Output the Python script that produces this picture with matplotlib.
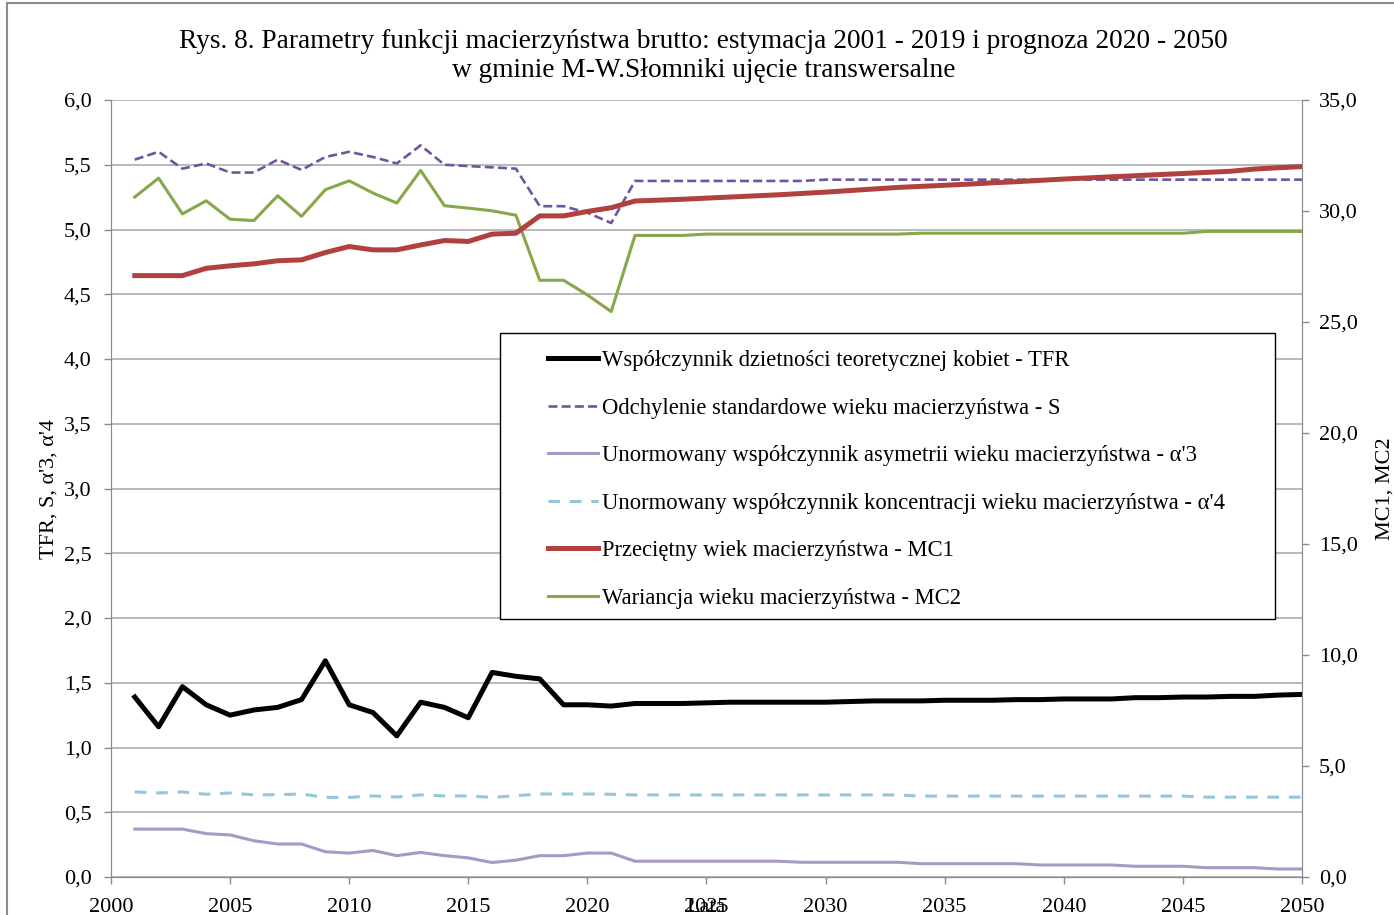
#!/usr/bin/env python3
"""Rys. 8 - parametry funkcji macierzynstwa brutto, Slomniki."""
import matplotlib
matplotlib.use('Agg')
import matplotlib.pyplot as plt
from matplotlib.ticker import FuncFormatter, MultipleLocator
from matplotlib.lines import Line2D
from matplotlib.patches import Rectangle

plt.rcParams['font.family'] = ['Liberation Serif', 'DejaVu Serif']

years = list(range(2001, 2051))

tfr = [1.39, 1.16, 1.47, 1.33, 1.25, 1.29, 1.31, 1.37, 1.67, 1.33, 1.27, 1.09, 1.35, 1.31,
       1.23, 1.58, 1.55, 1.53, 1.33, 1.33, 1.32,
       1.34, 1.34, 1.34, 1.345, 1.35, 1.35, 1.35, 1.35, 1.35, 1.355, 1.36, 1.36, 1.36, 1.365,
       1.365, 1.365, 1.37, 1.37, 1.375, 1.375, 1.375, 1.385, 1.385, 1.39, 1.39, 1.395, 1.395,
       1.405, 1.41]
s_dev = [5.54, 5.60, 5.47, 5.51, 5.44, 5.44, 5.54, 5.46, 5.56, 5.60, 5.56, 5.51, 5.65, 5.50,
         5.49, 5.48, 5.47, 5.18, 5.18, 5.13, 5.05,
         5.375, 5.375, 5.375, 5.375, 5.375, 5.375, 5.375, 5.375,
         5.385, 5.385, 5.385, 5.385, 5.385, 5.385, 5.385, 5.385, 5.385, 5.385, 5.385, 5.385,
         5.385, 5.385, 5.385, 5.385, 5.385, 5.385, 5.385, 5.385, 5.385]
alfa3 = [0.37, 0.37, 0.37, 0.335, 0.325, 0.28, 0.255, 0.255, 0.195, 0.185, 0.205, 0.165, 0.19,
         0.165, 0.148, 0.112, 0.13, 0.165, 0.165, 0.185, 0.185,
         0.122, 0.122, 0.122, 0.122, 0.122, 0.122, 0.122,
         0.114, 0.114, 0.114, 0.114, 0.114,
         0.103, 0.103, 0.103, 0.103, 0.103,
         0.093, 0.093, 0.093, 0.093,
         0.083, 0.083, 0.083,
         0.072, 0.072, 0.072,
         0.062, 0.062]
alfa4 = [0.657, 0.649, 0.657, 0.639, 0.649, 0.634, 0.636, 0.641, 0.615, 0.615, 0.626, 0.618,
         0.634, 0.626, 0.626, 0.615, 0.628, 0.641, 0.641, 0.641, 0.639,
         0.634, 0.634, 0.634, 0.634, 0.634, 0.634, 0.634, 0.634, 0.634, 0.634, 0.634, 0.634,
         0.625, 0.625, 0.625, 0.625, 0.625, 0.625, 0.625, 0.625, 0.625, 0.625, 0.625, 0.625,
         0.617, 0.617, 0.617, 0.617, 0.617]
mc1 = [27.09, 27.09, 27.09, 27.42, 27.53, 27.62, 27.76, 27.80, 28.13, 28.40, 28.25, 28.25,
       28.47, 28.67, 28.63, 28.96, 29.00, 29.78, 29.78, 29.98, 30.15,
       30.45, 30.49, 30.53, 30.58, 30.63, 30.68, 30.73, 30.79, 30.85, 30.92, 30.99, 31.06,
       31.11, 31.16, 31.21, 31.27, 31.32, 31.38, 31.44, 31.49, 31.54, 31.59, 31.64, 31.69,
       31.74, 31.79, 31.89, 31.95, 32.00]
mc2 = [30.63, 31.48, 29.87, 30.46, 29.63, 29.57, 30.69, 29.76, 30.96, 31.36, 30.81, 30.36,
       31.83, 30.24, 30.13, 30.01, 29.81, 26.88, 26.88, 26.22, 25.47,
       28.90, 28.90, 28.90,
       28.96, 28.96, 28.96, 28.96, 28.96, 28.96, 28.96, 28.96, 28.96,
       29.00, 29.00, 29.00, 29.00, 29.00, 29.00, 29.00, 29.00, 29.00, 29.00, 29.00, 29.00,
       29.08, 29.08, 29.08, 29.08, 29.08]

labels = ['Współczynnik dzietności teoretycznej kobiet - TFR',
          'Odchylenie standardowe wieku macierzyństwa - S',
          "Unormowany współczynnik asymetrii wieku macierzyństwa - α'3",
          "Unormowany współczynnik koncentracji wieku macierzyństwa - α'4",
          'Przeciętny wiek macierzyństwa - MC1',
          'Wariancja wieku macierzyństwa - MC2']

GRID = '#a6a6a6'
SPINE = '#8c8c8c'
comma = FuncFormatter(lambda v, p: f'{v:.1f}'.replace('.', ','))

fig = plt.figure(figsize=(13.94, 9.15), dpi=100)
ax = fig.add_axes([0.0796, 0.0415, 0.8544, 0.8492])
ax2 = ax.twinx()

l1, = ax.plot(years, tfr, color='black', lw=3.6, zorder=5)
l2, = ax.plot(years, s_dev, color='#7054a0', lw=1.9, linestyle=(0, (3.4, 1.6)), zorder=4)
l3, = ax.plot(years, alfa3, color='#a898c6', lw=2.2, zorder=4)
l4, = ax.plot(years, alfa4, color='#93c6da', lw=2.2, linestyle=(0, (3.8, 3.2)), zorder=4)
l5, = ax2.plot(years, mc1, color='#b0413e', lw=3.6, zorder=5)
l6, = ax2.plot(years, mc2, color='#86a84a', lw=2.2, zorder=4)

ax.set_xlim(2000, 2050)
ax.set_ylim(0, 6)
ax2.set_ylim(0, 35)
ax.xaxis.set_major_locator(MultipleLocator(5))
ax.yaxis.set_major_locator(MultipleLocator(0.5))
ax2.yaxis.set_major_locator(MultipleLocator(5))
ax.yaxis.set_major_formatter(comma)
ax2.yaxis.set_major_formatter(comma)
ax.grid(axis='y', color=GRID, lw=1.1)
ax.set_axisbelow(True)

for a in (ax, ax2):
    for side in a.spines:
        a.spines[side].set_color(SPINE)
    a.spines['top'].set_visible(False)
    a.tick_params(colors=SPINE, labelcolor='black', labelsize=16, length=5, width=1)
ax.tick_params(axis='y', pad=9)
ax.tick_params(axis='x', pad=10)
ax2.tick_params(axis='y', pad=7)

ax.set_ylabel("TFR, S, α'3, α'4", fontsize=16, labelpad=4)
ax2.set_ylabel('MC1, MC2', fontsize=16, labelpad=13)
ax.set_xlabel('Lata', fontsize=16)
ax.xaxis.set_label_coords(0.5, -0.027)

fig.text(0.5045, 1 - 56 / 915,
         'Rys. 8. Parametry funkcji macierzyństwa brutto: estymacja 2001 - 2019 i prognoza 2020 - 2050\n'
         'w gminie M-W.Słomniki ujęcie transwersalne',
         fontsize=19.7, ha='center', va='center', linespacing=1.17)

# ramka legendy
box = Rectangle((0.3266, 0.332), 0.6507, 0.368, transform=ax2.transAxes,
                facecolor='white', edgecolor='black', lw=1.0, zorder=9)
ax2.add_patch(box)
leg = ax2.legend([l1, l2, l3, l4, l5, l6], labels, loc='upper left',
                 bbox_to_anchor=(0.367, 0.678), frameon=False,
                 fontsize=16.3, handlelength=2.2, handletextpad=0.2,
                 labelspacing=1.17, borderpad=0, borderaxespad=0)
leg.set_zorder(10)

# ramka obszaru wykresu
fig.add_artist(Line2D([7 / 1394, 7 / 1394], [0, 1 - 3 / 915], transform=fig.transFigure,
                      color='#8c8c8c', lw=1.5))
fig.add_artist(Line2D([7 / 1394, 1], [1 - 3 / 915, 1 - 3 / 915], transform=fig.transFigure,
                      color='#8c8c8c', lw=1.5))

fig.savefig('out.png', dpi=100)
print('[saved] out.png')
